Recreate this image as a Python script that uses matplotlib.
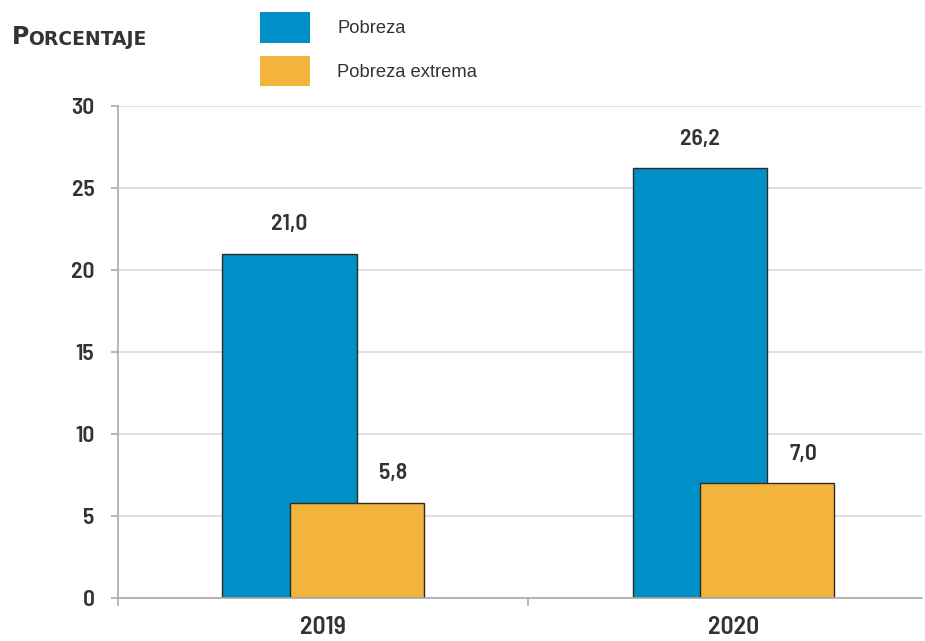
import numpy as np
import matplotlib.pyplot as plt
from matplotlib.patches import Patch
from matplotlib.ticker import FixedLocator

years = ['2019', '2020']
pobreza = [21.0, 26.2]
pobreza_extrema = [5.8, 7.0]
yticks = [0, 5, 10, 15, 20, 25, 30]

blue = '#008fc6'
orange = '#f2b43c'
txt = '#333333'
grid = '#d9d9d9'
cond = ['Barlow Semi Condensed', 'DejaVu Sans']

plt.rcParams['font.family'] = ['DejaVu Sans']

fig = plt.figure(figsize=(9.25, 6.41), dpi=100)
ax = fig.add_axes([118 / 925, 43 / 641, (922 - 118) / 925, (598 - 106) / 641])

x = np.arange(len(years))
w = 0.327
off = 0.082
b1 = ax.bar(x - off, pobreza, w, color=blue, edgecolor='#2b2b2b', linewidth=1, zorder=3)
b2 = ax.bar(x + off, pobreza_extrema, w, color=orange, edgecolor='#2b2b2b', linewidth=1, zorder=4)

# value labels (the orange ones sit a bit right of the bar centre in the original)
for bars, vals, dx in ((b1, pobreza, 0), (b2, pobreza_extrema, 26)):
    for r, v in zip(bars, vals):
        ax.annotate(f'{v:.1f}'.replace('.', ','), (r.get_x() + r.get_width() / 2, v),
                    xytext=(dx, 14), textcoords='offset points', ha='center', va='bottom',
                    fontsize=17, fontweight=600, family=cond, color=txt, zorder=6)

ax.set_ylim(0, 30)
ax.set_xlim(-0.5, 1.46)
ax.set_yticks(yticks)
ax.set_yticklabels([str(t) for t in yticks], fontsize=17, fontweight=600,
                   family=cond, color=txt)
ax.set_xticks(x)
ax.set_xticklabels(years, fontsize=18.5, fontweight=600, family=cond, color=txt)
ax.xaxis.set_minor_locator(FixedLocator([-0.5, 0.5, 1.5]))
ax.tick_params(axis='x', which='major', length=0, pad=13)
ax.tick_params(axis='x', which='minor', length=6, color='#aaaaaa', width=1.2)
ax.tick_params(axis='y', length=5, color='#aaaaaa', width=1.2, pad=12)

ax.grid(axis='y', color=grid, linewidth=1.2, zorder=0)
ax.set_axisbelow(True)
for s in ('top', 'right'):
    ax.spines[s].set_visible(False)
for s in ('left', 'bottom'):
    ax.spines[s].set_color('#aaaaaa')
    ax.spines[s].set_linewidth(1.2)
ax.spines['bottom'].set_zorder(5)

# small-caps style title
t1 = fig.text(12 / 925, 1 - 44 / 641, 'P', fontsize=17, fontweight='bold',
              color=txt, va='baseline', ha='left')
ax.annotate('ORCENTAJE', xy=(1, 0), xycoords=t1, xytext=(-1, 0), textcoords='offset points',
            fontsize=13.5, fontweight='bold', color=txt, va='bottom', ha='left',
            annotation_clip=False)

handles = [Patch(facecolor=blue, edgecolor='none'), Patch(facecolor=orange, edgecolor='none')]
leg = fig.legend(handles, ['Pobreza', 'Pobreza extrema'], loc='upper left',
                 bbox_to_anchor=(251 / 925, 1 - 3 / 641), frameon=False,
                 prop={'family': 'Liberation Sans', 'size': 13.2}, borderpad=0.0,
                 handlelength=2.7, handleheight=2.2, labelspacing=0.7, handletextpad=1.5,
                 labelcolor=txt)

fig.savefig('out.png', dpi=100)
